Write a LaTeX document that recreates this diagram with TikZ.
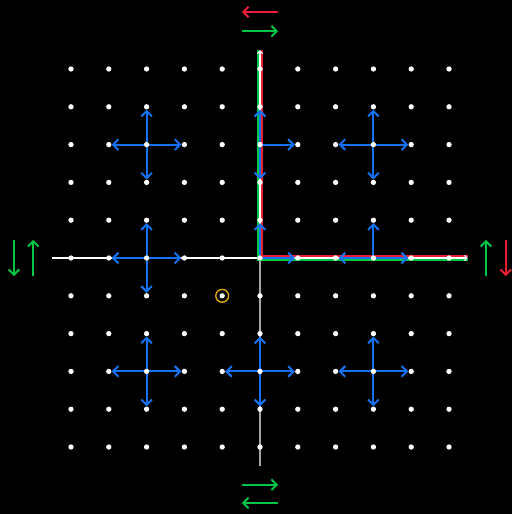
\documentclass[tikz,border=0pt]{standalone}
\usetikzlibrary{arrows.meta,backgrounds}

\definecolor{redline}{RGB}{235,30,55}
\definecolor{greenline}{RGB}{0,200,70}
\definecolor{blueline}{RGB}{20,115,245}
\definecolor{ringgold}{RGB}{230,170,0}

\begin{document}
\begin{tikzpicture}[
    dot/.style={circle, fill=white, inner sep=0pt, minimum size=4pt},
    barrow/.style={blueline, line width=1.5pt, -{Straight Barb[length=4pt,width=8pt]}},
    sidearrow/.style={line width=1.5pt, -{Straight Barb[length=4pt,width=8pt]}}
  ]

    % Page size and black background
    \useasboundingbox (-6.878,-6.772) rectangle (6.667,6.825);

    % Grid dots
    \foreach \x in {-5,...,5}
        \foreach \y in {-5,...,5}
            \node[dot] (p\x_\y) at (\x,\y) {};

    % Axis ends
    \coordinate (xl) at (-5.5,0);
    \coordinate (xr) at (5.5,0);
    \coordinate (yt) at (0,5.5);
    \coordinate (yb) at (0,-5.5);

    \begin{scope}[on background layer]
        \fill[black] (-6.878,-6.772) rectangle (6.667,6.825);

        % Axes
        \draw[white, line width=0.8pt] (xl) -- (p0_0.center);
        \draw[white!65!black, line width=1.2pt] (p0_0.center) -- (yb);

        % Path along the axes (green outside, red inside)
        \draw[greenline, line width=1.5pt] ([xshift=-1.5pt]yt) -- ([shift={(-1.5pt,-1.5pt)}]p0_0.center) -- ([yshift=-1.5pt]xr);
        \draw[redline, line width=1.5pt] ([xshift=1.5pt]yt) -- ([shift={(1.5pt,1.5pt)}]p0_0.center) -- ([yshift=1.5pt]xr);
        \draw[white, line width=0.8pt, -{Straight Barb[length=2pt,width=4pt]}] (p0_0.center) -- (yt);
        \draw[white, line width=0.8pt, -{Straight Barb[length=2pt,width=4pt]}] (p0_0.center) -- (xr);

        % Full crosses
        \foreach \cx/\cy in {-3/3, 3/3, -3/0, -3/-3, 0/-3, 3/-3} {
            \pgfmathtruncatemacro{\xm}{\cx-1}
            \pgfmathtruncatemacro{\xp}{\cx+1}
            \pgfmathtruncatemacro{\ym}{\cy-1}
            \pgfmathtruncatemacro{\yp}{\cy+1}
            \draw[barrow] (p\cx_\cy.center) -- (p\xm_\cy);
            \draw[barrow] (p\cx_\cy.center) -- (p\xp_\cy);
            \draw[barrow] (p\cx_\cy.center) -- (p\cx_\ym);
            \draw[barrow] (p\cx_\cy.center) -- (p\cx_\yp);
        }

        % Partial crosses on the path
        \foreach \a/\b in {0_3/0_4, 0_3/0_2, 0_3/1_3, 0_0/0_1, 0_0/1_0, 3_0/3_1, 3_0/2_0, 3_0/4_0}
            \draw[barrow] (p\a.center) -- (p\b);
    \end{scope}

    % Marked point
    \draw[ringgold, line width=1pt] (p-1_-1) circle (0.17);

    % Direction arrows round the border
    \coordinate (t1) at (0,6.51);
    \coordinate (t2) at (0,6.0);
    \coordinate (b1) at (0,-6.0);
    \coordinate (b2) at (0,-6.48);
    \coordinate (l1) at (-6.51,0);
    \coordinate (l2) at (-6.0,0);
    \coordinate (r1) at (5.98,0);
    \coordinate (r2) at (6.5,0);

    \draw[sidearrow, redline] ([xshift=0.48cm]t1) -- ([xshift=-0.48cm]t1);
    \draw[sidearrow, greenline] ([xshift=-0.48cm]t2) -- ([xshift=0.48cm]t2);
    \draw[sidearrow, greenline] ([xshift=-0.48cm]b1) -- ([xshift=0.48cm]b1);
    \draw[sidearrow, greenline] ([xshift=0.48cm]b2) -- ([xshift=-0.48cm]b2);
    \draw[sidearrow, greenline] ([yshift=0.48cm]l1) -- ([yshift=-0.48cm]l1);
    \draw[sidearrow, greenline] ([yshift=-0.48cm]l2) -- ([yshift=0.48cm]l2);
    \draw[sidearrow, greenline] ([yshift=-0.48cm]r1) -- ([yshift=0.48cm]r1);
    \draw[sidearrow, redline] ([yshift=0.48cm]r2) -- ([yshift=-0.48cm]r2);

\end{tikzpicture}
\end{document}
